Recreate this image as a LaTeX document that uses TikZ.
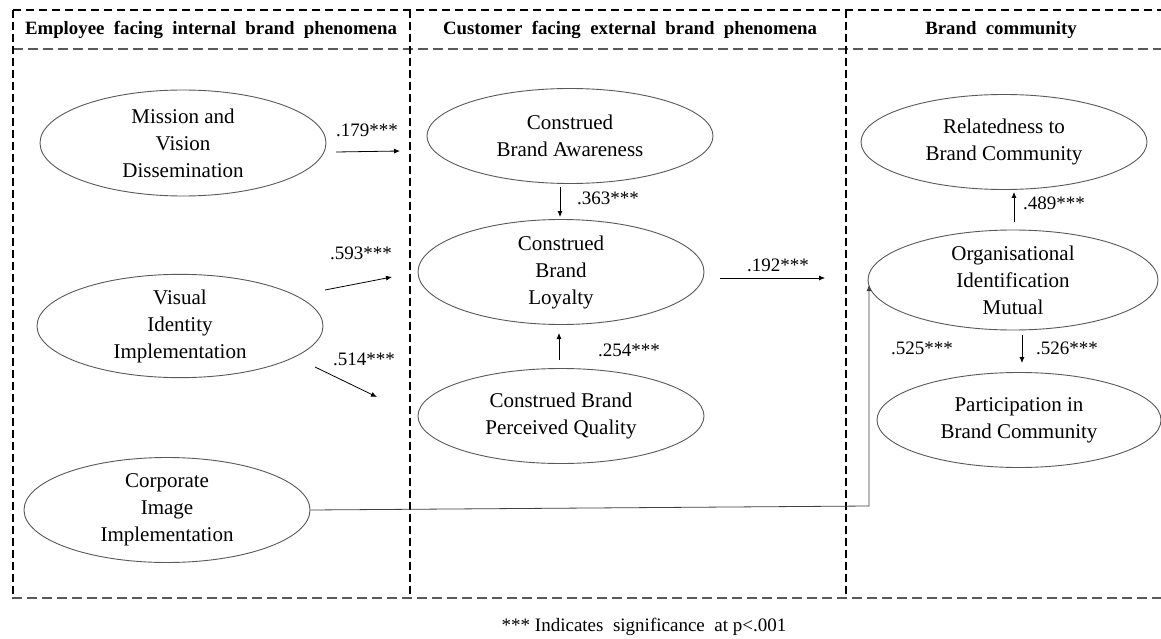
\documentclass[tikz,border=0pt]{standalone}
\usepackage{fontspec}
\setmainfont{Liberation Serif}
\usetikzlibrary{shapes.geometric,arrows.meta}
\begin{document}
\begin{tikzpicture}[x=1pt,y=-1pt,
  construct/.style={ellipse,draw=black!65,line width=0.9pt,inner sep=0pt,minimum width=286pt,minimum height=100pt,align=center,font=\fontsize{21}{27}\selectfont},
  path/.style={draw=black,line width=0.8pt,-{Latex[length=6pt,width=5pt]}},
  coef/.style={font=\fontsize{19}{22}\selectfont,inner sep=0pt},
  header/.style={font=\bfseries\fontsize{18.8}{22}\selectfont,inner sep=0pt},
  thinframe/.style={draw=black,line width=1.3pt,dash pattern=on 8pt off 5pt},
  thickframe/.style={draw=black!65,line width=2.6pt,dash pattern=on 10pt off 5pt},
  vframe/.style={draw=black,line width=1.3pt,dash pattern=on 8pt off 4pt}]
\useasboundingbox (0,0) rectangle (1161,639);
\fill[white] (0,0) rectangle (1161,639);
% frame
\draw[thinframe] (13,10) -- (1161,10);
\draw[thickframe] (13,49) -- (1161,49);
\draw[thickframe] (12,598) -- (1161,598);
\draw[vframe] (13,10) -- (13,598);
\draw[vframe] (410,10) -- (410,598);
\draw[vframe] (846,10) -- (846,598);
% headers
\node[header] (h1) at (211,30) {Employee\ \ facing\ \ internal\ \ brand\ \ phenomena};
\node[header] (h2) at (630,30) {Customer\ \ facing\ \ external\ \ brand\ \ phenomena};
\node[header] (h3) at (1001,30) {Brand\ \ community};
% constructs
\node[construct,minimum height=106pt] (mission) at (183,143) {Mission and\\Vision\\Dissemination};
\node[construct,minimum height=103pt] (visual) at (180,326) {Visual\\Identity\\Implementation};
\node[construct,minimum height=105pt] (corporate) at (167,510) {Corporate\\Image\\Implementation};
\node[construct,minimum height=95pt] (aware) at (570,136) {Construed\\Brand Awareness};
\node[construct,minimum height=105pt] (loyal) at (561,272) {Construed\\Brand\\Loyalty};
\node[construct,minimum height=95pt] (quality) at (561,416) {Construed Brand\\Perceived Quality};
\node[construct,minimum height=95pt] (related) at (1004,142) {Relatedness to\\Brand Community};
\node[construct,minimum width=290pt,minimum height=100pt] (org) at (1013,280) {Organisational\\Identification\\Mutual};
\node[construct,minimum width=284pt,minimum height=95pt] (partic) at (1019,420) {Participation in\\Brand Community};
% arrow end points
\coordinate (a1s) at (336,152); \coordinate (a1e) at (400,151);
\coordinate (a2s) at (325,290); \coordinate (a2e) at (392,277);
\coordinate (a3s) at (315,367); \coordinate (a3e) at (377,397);
\coordinate (a4s) at (560,187); \coordinate (a4e) at (560,217);
\coordinate (a5s) at (559,360); \coordinate (a5e) at (559,333);
\coordinate (a6s) at (720,278); \coordinate (a6e) at (825,278);
\coordinate (a7s) at (1014,222); \coordinate (a7e) at (1014,192);
\coordinate (a8s) at (1022,335); \coordinate (a8e) at (1022,363);
\coordinate (bend) at (869,506); \coordinate (a9e) at (869,285);
% arrows
\draw[path] (a1s) -- (a1e);
\draw[path] (a2s) -- (a2e);
\draw[path] (a3s) -- (a3e);
\draw[path] (a4s) -- (a4e);
\draw[path] (a5s) -- (a5e);
\draw[path] (a6s) -- (a6e);
\draw[path] (a7s) -- (a7e);
\draw[path] (a8s) -- (a8e);
\draw[path,draw=black!75] (corporate.east) -- (bend) -- (a9e);
% coefficients
\node[coef] (c1) at (367,130) {.179***};
\node[coef] (c2) at (361,253) {.593***};
\node[coef] (c3) at (364,359) {.514***};
\node[coef] (c4) at (608,198) {.363***};
\node[coef] (c5) at (629,350) {.254***};
\node[coef] (c6) at (778,265) {.192***};
\node[coef] (c7) at (1054,203) {.489***};
\node[coef] (c8) at (1067,348) {.526***};
\node[coef] (c9) at (922,348) {.525***};
% footnote
\node[coef] (note) at (644,627) {***\ Indicates\ \ significance\ \ at\ p<.001};
\end{tikzpicture}
\end{document}
